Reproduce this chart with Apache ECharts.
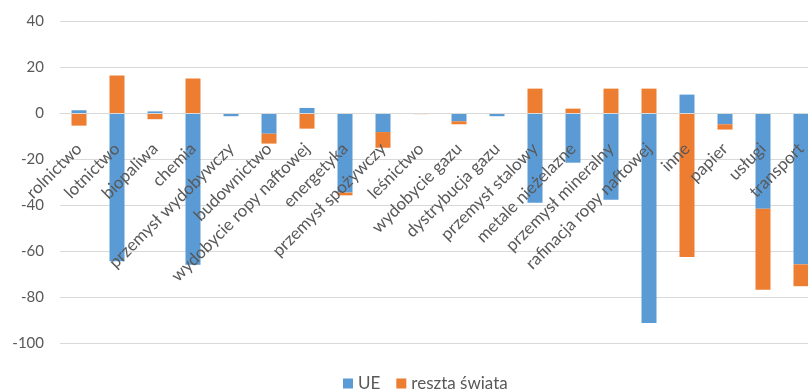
<!DOCTYPE html>
<html><head><meta charset="utf-8">
<script src="https://cdn.jsdelivr.net/npm/echarts@6/dist/echarts.min.js"></script>
<style>html,body{margin:0;padding:0;background:#fff}#c{width:808px;height:391px}</style>
</head><body><div id="c"></div>
<script>
var categories = ["rolnictwo","lotnictwo","biopaliwa","chemia","przemysł wydobywczy","budownictwo","wydobycie ropy naftowej","energetyka","przemysł spożywczy","leśnictwo","wydobycie gazu","dystrybucja gazu","przemysł stalowy","metale nieżelazne","przemysł mineralny","rafinacja ropy naftowej","inne","papier","usługi","transport"];
var ue = [1.2,-64.5,0.7,-66,-1.4,-9,2.2,-34.6,-8.3,0,-3.6,-1.4,-39,-21.6,-37.7,-91.3,8,-4.9,-41.6,-65.8];
var resztaSwiata = [-5.5,16.3,-2.7,15,0,-4.3,-6.8,-1.2,-6.8,-0.5,-1.3,0,10.6,1.9,10.6,10.6,-62.6,-2.3,-35.2,-9.5];
var yTicks = {min:-100,max:40,interval:20};

var gridHeight = 322;
var zeroOffset = -(0 - yTicks.min) / (yTicks.max - yTicks.min) * gridHeight;

var chart = echarts.init(document.getElementById('c'));
var font = 'Lato';
chart.setOption({
  animation:false,
  color:['#5B9BD5','#ED7D31'],
  grid:{left:60,top:21,height:gridHeight,width:760,outerBoundsMode:'none',containLabel:false},
  legend:{left:338,top:370,itemWidth:10,itemHeight:10,itemGap:16,
    icon:'rect',textStyle:{color:'#595959',fontSize:17,fontFamily:font},
    data:['UE','reszta świata']},
  xAxis:{type:'category',data:categories,z:10,offset:zeroOffset,
    axisLine:{onZero:false,lineStyle:{color:'#d9d9d9',width:1}},
    axisTick:{show:false},
    axisLabel:{rotate:45,interval:0,margin:33,color:'#595959',fontSize:17,fontFamily:font,hideOverlap:false}},
  yAxis:{type:'value',min:yTicks.min,max:yTicks.max,interval:yTicks.interval,
    axisLine:{show:false},axisTick:{show:false},
    splitLine:{lineStyle:{color:'#d9d9d9',width:1}},
    axisLabel:{margin:16,color:'#595959',fontSize:15,fontFamily:font}},
  series:[
    {name:'UE',type:'bar',stack:'s',data:ue,barWidth:15},
    {name:'reszta świata',type:'bar',stack:'s',data:resztaSwiata,barWidth:15}
  ]
});
</script></body></html>
